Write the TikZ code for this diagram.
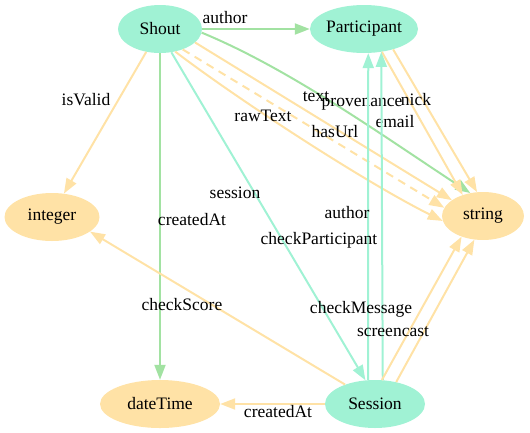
\documentclass[tikz,border=0pt]{standalone}
\usepackage{fontspec}
\setmainfont{Liberation Serif}
\usepackage{xcolor}
\usepackage{tikz}
\usetikzlibrary{arrows.meta,shapes}

\definecolor{mint}{RGB}{160,242,212}
\definecolor{wheat}{RGB}{255,226,166}
\definecolor{leaf}{RGB}{162,226,162}

\begin{document}
\begin{tikzpicture}[x=1pt,y=-1pt]

\tikzset{cls/.style = {shape=ellipse,fill=mint,inner sep=0pt,minimum height=48pt,font=\fontsize{17.5}{20}\selectfont}}
\tikzset{lit/.style = {shape=ellipse,fill=wheat,inner sep=0pt,minimum height=48pt,font=\fontsize{17.5}{20}\selectfont}}
\tikzset{link/.style = {draw=#1,line width=2pt,-{Triangle[length=15pt,width=11pt]}}}
\tikzset{lbl/.style = {inner sep=0pt,font=\fontsize{17.5}{20}\selectfont}}

\useasboundingbox (0,0) rectangle (530,432);

% vertices
\node[cls,minimum width=84pt]  (shout)   at (160,29)  {Shout};
\node[cls,minimum width=108pt] (part)    at (364,29)  {Participant};
\node[lit,minimum width=95pt]  (integer) at (52,217)  {integer};
\node[lit,minimum width=82pt]  (string)  at (483,216) {string};
\node[lit,minimum width=120pt] (date)    at (160,404) {dateTime};
\node[cls,minimum width=100pt] (session) at (375,404) {Session};

%edges
\draw[link=leaf] (shout.east) -- (part.west) node[lbl] at (225,18) {author};
\draw[link=wheat] (shout.-121) -- (integer.63) node[lbl] at (86,100) {isValid};
\draw[link=leaf] (shout.south) -- (date.north) node[lbl] at (192,220) {createdAt};
\draw[link=mint] (shout.-64) -- (session.112) node[lbl] at (235,193) {session};
\draw[link=leaf] (shout.-5) .. controls +(90,37) and +(-80,-52) .. (string.119) node[lbl] at (362,104) {provenance};
\draw[link=wheat] (shout.-21) -- (string.153) node[lbl] at (316,97) {text};
\draw[link=wheat,dash pattern=on 8pt off 6pt] (shout.-42) -- (string.168) node[lbl] at (335,132) {hasUrl};
\draw[link=wheat] (shout.-56) .. controls +(60,46) and +(-80,-40) .. (string.187) node[lbl] at (263,116) {rawText};
\draw[link=wheat] (part.-52) -- (string.134) node[lbl] at (395,122) {email};
\draw[link=wheat] (part.-35) -- (string.104) node[lbl] at (416,100) {nick};
\draw[link=mint] (session.106) -- (part.-80) node[lbl] at (347,213) {author};
\draw[link=mint] (session.72) -- (part.-53) node[lbl] at (319,240) {checkParticipant};
\draw[link=wheat] (session.74) -- (string.-136) node[lbl] at (361,309) {checkMessage};
\draw[link=wheat] (session.46) -- (string.-110) node[lbl] at (393,332) {screencast};
\draw[link=wheat] (session.147) -- (integer.-21) node[lbl] at (182,305) {checkScore};
\draw[link=wheat] (session.west) -- (date.east) node[lbl] at (278,412) {createdAt};
\end{tikzpicture}
\end{document}
